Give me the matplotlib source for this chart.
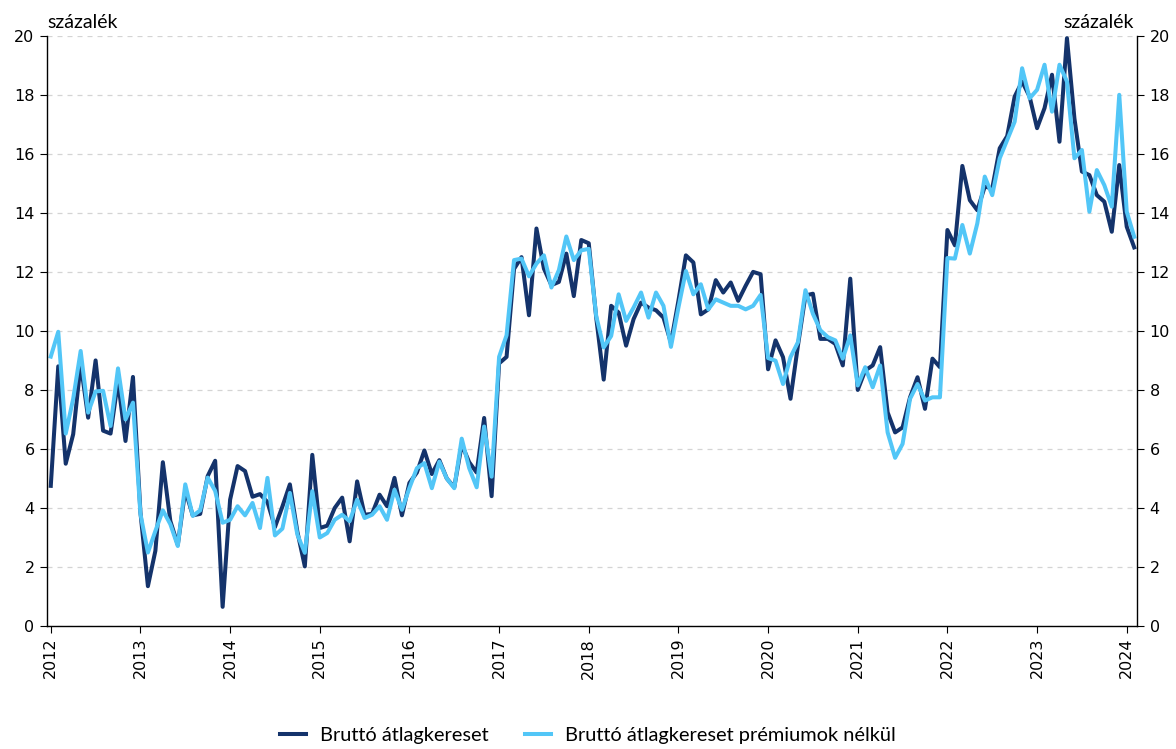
import numpy as np
import matplotlib.pyplot as plt

years = list(range(2012, 2025))

# havi adatok, 2012 jan - 2024 feb
brutto = [
    4.75, 8.8, 5.5, 6.5, 8.9, 7.06, 9.0, 6.62, 6.52, 8.3, 6.27, 8.44,
    3.85, 1.35, 2.55, 5.55, 3.56, 2.75, 4.6, 3.75, 3.8, 5.08, 5.6, 0.65,
    4.28, 5.42, 5.25, 4.38, 4.47, 4.2, 3.35, 4.05, 4.8, 3.2, 2.02, 5.8,
    3.32, 3.4, 4.0, 4.35, 2.87, 4.9, 3.77, 3.8, 4.45, 4.06, 5.02, 3.75,
    4.85, 5.2, 5.95, 5.15, 5.62, 5.0, 4.7, 6.15, 5.55, 5.2, 7.05, 4.4,
    8.9, 9.12, 12.1, 12.5, 10.53, 13.47, 12.11, 11.55, 11.66, 12.62, 11.18, 13.08,
    12.97, 10.45, 8.35, 10.85, 10.62, 9.5, 10.4, 10.96, 10.79, 10.7, 10.45, 9.6,
    11.02, 12.56, 12.32, 10.56, 10.73, 11.72, 11.3, 11.64, 11.02, 11.53, 12.0, 11.92,
    8.7, 9.68, 9.11, 7.7, 9.51, 11.2, 11.26, 9.73, 9.73, 9.56, 8.83, 11.77,
    8.0, 8.66, 8.83, 9.45, 7.24, 6.56, 6.73, 7.75, 8.43, 7.36, 9.06, 8.77,
    13.42, 12.9, 15.59, 14.43, 14.09, 14.89, 14.83, 16.19, 16.6, 17.94, 18.45, 17.94,
    16.87, 17.55, 18.68, 16.41, 19.92, 17.2, 15.4, 15.28, 14.6, 14.38, 13.36, 15.62,
    13.53, 12.83,
]
premium_nelkul = [
    9.13, 9.97, 6.52, 7.7, 9.32, 7.23, 7.95, 7.97, 6.78, 8.73, 7.0, 7.57,
    3.8, 2.49, 3.22, 3.92, 3.45, 2.71, 4.8, 3.73, 3.92, 5.03, 4.58, 3.5,
    3.6, 4.06, 3.75, 4.17, 3.32, 5.02, 3.07, 3.3, 4.51, 3.1, 2.48, 4.57,
    3.0, 3.15, 3.6, 3.77, 3.55, 4.28, 3.66, 3.77, 4.06, 3.6, 4.62, 3.94,
    4.68, 5.35, 5.52, 4.67, 5.57, 5.0, 4.67, 6.35, 5.35, 4.7, 6.76, 5.06,
    9.12, 9.85, 12.4, 12.45, 11.85, 12.28, 12.56, 11.47, 12.06, 13.2, 12.4, 12.73,
    12.78, 10.5, 9.44, 9.83, 11.24, 10.34, 10.79, 11.3, 10.45, 11.3, 10.85, 9.46,
    10.79, 12.03, 11.24, 11.58, 10.73, 11.07, 10.96, 10.85, 10.85, 10.73, 10.85, 11.22,
    9.08, 8.99, 8.2, 9.11, 9.62, 11.38, 10.58, 10.02, 9.79, 9.68, 9.06, 9.85,
    8.15, 8.77, 8.09, 8.83, 6.56, 5.7, 6.17, 7.7, 8.2, 7.64, 7.75, 7.75,
    12.47, 12.45, 13.59, 12.62, 13.64, 15.23, 14.6, 15.85, 16.47, 17.09, 18.9, 17.88,
    18.17, 19.02, 17.43, 19.02, 18.45, 15.85, 16.13, 14.04, 15.45, 14.94, 14.21, 18.0,
    14.04, 13.19,
]

dark = '#14336b'
light = '#52c6f7'

plt.rcParams['font.size'] = 11.5
x = np.arange(len(brutto))

fig = plt.figure(figsize=(11.76, 7.49), dpi=100)
ax = fig.add_axes([0.040, 0.1642, 0.927, 0.788])

ax.plot(x, brutto, color=dark, lw=2.9, label='Bruttó átlagkereset')
ax.plot(x, premium_nelkul, color=light, lw=2.9, label='Bruttó átlagkereset prémiumok nélkül')

ax.set_ylim(0, 20)
ax.set_xlim(-0.5, len(brutto) - 0.6)
ax.set_yticks(range(0, 21, 2))
ax.set_xticks([12 * k for k in range(len(years))])
ax.set_xticklabels([str(y) for y in years], rotation=90)
ax.tick_params(axis='y', which='both', left=True, right=True, labelleft=True, labelright=True,
               direction='out', length=5, pad=4)
ax.tick_params(axis='x', direction='out', length=5)

ax.grid(axis='y', color='#d4d4d4', linestyle=(0, (4, 4)), lw=0.9)
ax.set_axisbelow(True)
ax.spines['top'].set_visible(False)
for s in ('left', 'right', 'bottom'):
    ax.spines[s].set_linewidth(1.0)

ax.text(0.0, 1.008, 'százalék', transform=ax.transAxes, ha='left', va='bottom',
        family='Lato', fontsize=14)
ax.text(0.997, 1.008, 'százalék', transform=ax.transAxes, ha='right', va='bottom',
        family='Lato', fontsize=14)

fig.legend(loc='lower center', bbox_to_anchor=(0.5, -0.018), ncol=2, frameon=False,
           prop={'family': 'Lato', 'size': 14.4}, handlelength=1.3, handletextpad=0.7,
           columnspacing=1.8)

fig.savefig('out.png', dpi=100, facecolor='w')
